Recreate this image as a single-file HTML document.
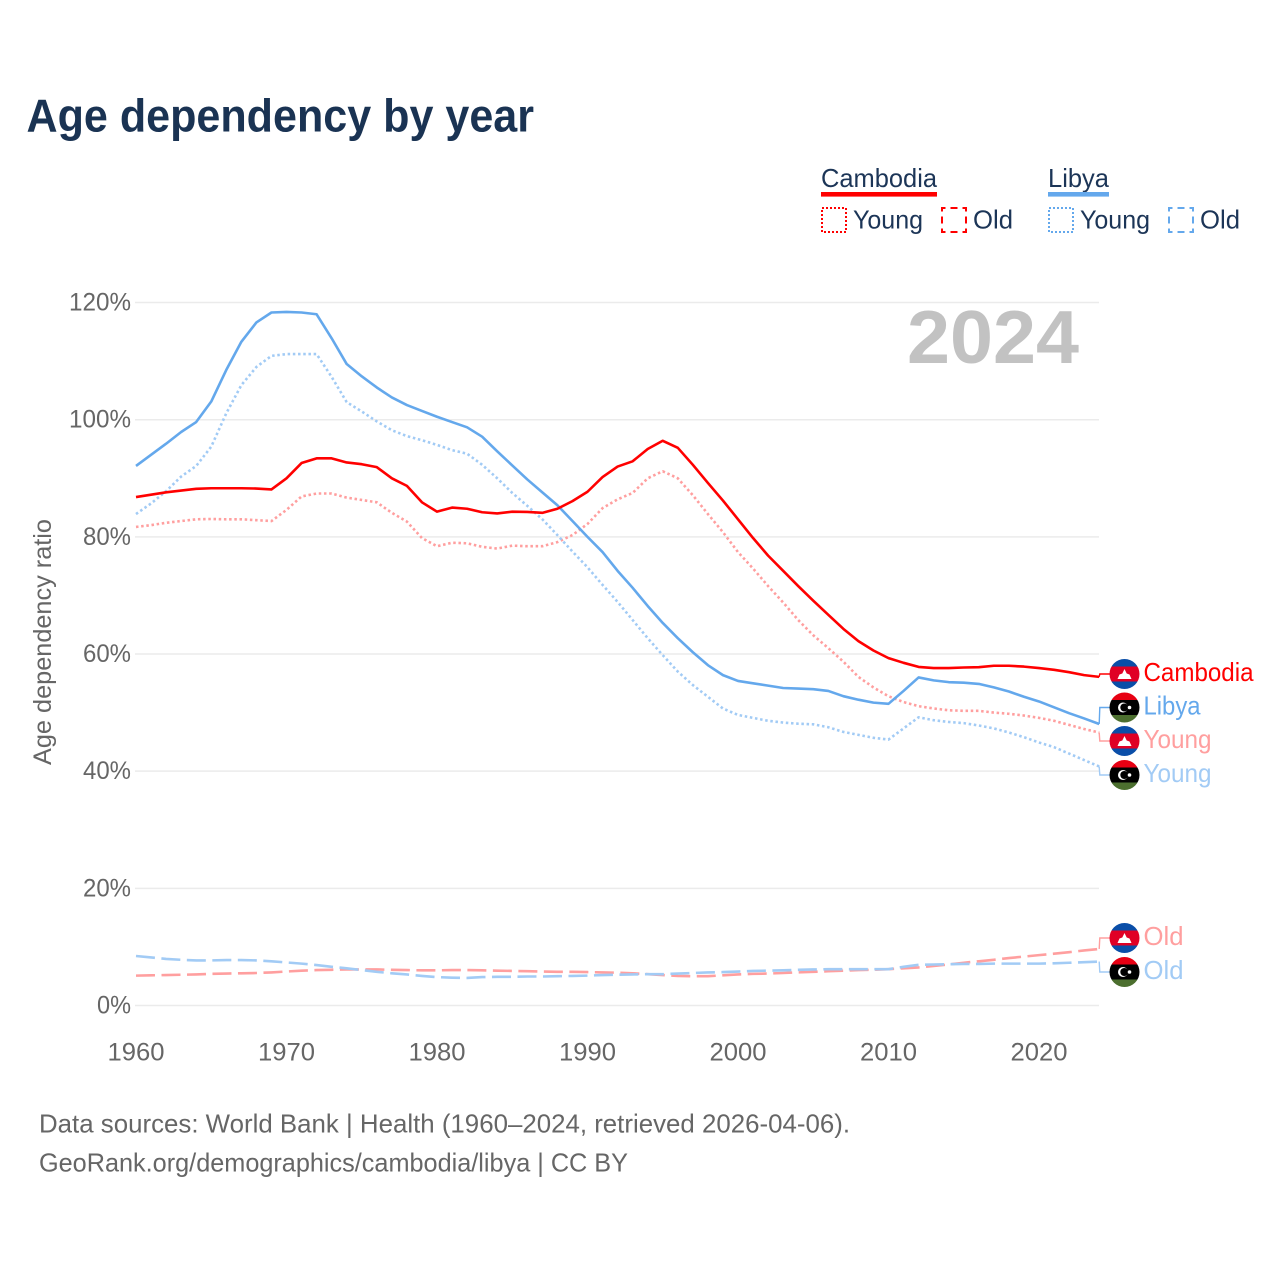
<!DOCTYPE html>
<html lang="en">
<head>
<meta charset="utf-8">
<title>Age dependency by year</title>
<style>
html,body{margin:0;padding:0;background:#fff;}
svg{display:block;font-family:"Liberation Sans",sans-serif;}
</style>
</head>
<body>
<svg id="chart" xmlns="http://www.w3.org/2000/svg" width="1280" height="1280" viewBox="0 0 1280 1280">
  <rect width="1280" height="1280" fill="#ffffff"/>
  <text x="26.5" y="131.5" font-size="46" font-weight="bold" fill="#1a3353" textLength="507.5" lengthAdjust="spacingAndGlyphs">Age dependency by year</text>

  <g font-size="26" fill="#1c3557">
    <text x="821" y="187" textLength="116" lengthAdjust="spacingAndGlyphs">Cambodia</text>
    <rect x="821" y="192" width="116" height="4.6" fill="#ff0000"/>
    <rect x="822" y="208" width="24" height="24" fill="none" stroke="#ff0000" stroke-width="2" stroke-dasharray="2 2"/>
    <text x="853" y="228.5" textLength="70" lengthAdjust="spacingAndGlyphs">Young</text>
    <rect x="942" y="208" width="24" height="24" fill="none" stroke="#ff0000" stroke-width="2" stroke-dasharray="7 5" stroke-dashoffset="3.5"/>
    <text x="973" y="228.5" textLength="40" lengthAdjust="spacingAndGlyphs">Old</text>
    <text x="1048" y="187" textLength="61" lengthAdjust="spacingAndGlyphs">Libya</text>
    <rect x="1048" y="192" width="61" height="4.6" fill="#64a8ec"/>
    <rect x="1049" y="208" width="24" height="24" fill="none" stroke="#64a8ec" stroke-width="2" stroke-dasharray="2 2"/>
    <text x="1080" y="228.5" textLength="70" lengthAdjust="spacingAndGlyphs">Young</text>
    <rect x="1169" y="208" width="24" height="24" fill="none" stroke="#64a8ec" stroke-width="2" stroke-dasharray="7 5" stroke-dashoffset="3.5"/>
    <text x="1200" y="228.5" textLength="40" lengthAdjust="spacingAndGlyphs">Old</text>
  </g>

  <g id="grid"></g>
  <g id="yticks"></g>
  <g id="xticks"></g>
  <text transform="translate(51,765) rotate(-90)" font-size="25" fill="#666666" textLength="246" lengthAdjust="spacingAndGlyphs">Age dependency ratio</text>
  <text x="907" y="363" font-size="75" font-weight="bold" fill="#c2c2c2" textLength="172" lengthAdjust="spacingAndGlyphs">2024</text>

  <g id="series"></g>
  <g id="labels"></g>

  <text x="39" y="1132.5" font-size="26" fill="#666666" textLength="811" lengthAdjust="spacingAndGlyphs">Data sources: World Bank | Health (1960–2024, retrieved 2026-04-06).</text>
  <text x="39" y="1171.5" font-size="26" fill="#666666" textLength="589" lengthAdjust="spacingAndGlyphs">GeoRank.org/demographics/cambodia/libya | CC BY</text>
</svg>
<script>
const firstYear = 1960;
const yTickValues = [0, 20, 40, 60, 80, 100, 120];
const xTickYears = [1960, 1970, 1980, 1990, 2000, 2010, 2020];

const cambodiaTotal = [86.8,87.2,87.6,87.9,88.2,88.3,88.3,88.3,88.25,88.1,90.0,92.6,93.4,93.4,92.7,92.4,91.9,90.0,88.7,85.9,84.3,85.0,84.8,84.2,84.0,84.3,84.25,84.1,84.8,86.1,87.7,90.2,92.0,92.9,95.0,96.4,95.2,92.3,89.2,86.2,83.0,79.8,76.8,74.2,71.6,69.1,66.7,64.3,62.2,60.6,59.3,58.5,57.8,57.6,57.6,57.7,57.75,58.0,58.0,57.85,57.6,57.3,56.9,56.4,56.1];
const libyaTotal = [92.1,94.0,95.9,97.9,99.6,103.1,108.5,113.3,116.6,118.3,118.4,118.3,118.0,113.9,109.5,107.4,105.5,103.8,102.5,101.5,100.5,99.6,98.7,97.1,94.6,92.2,89.8,87.6,85.4,82.7,80.0,77.4,74.2,71.3,68.2,65.3,62.7,60.3,58.1,56.4,55.4,55.0,54.6,54.2,54.1,54.0,53.7,52.8,52.2,51.7,51.5,53.7,56.0,55.5,55.2,55.1,54.9,54.3,53.6,52.7,51.9,50.9,49.9,49.0,48.05];
const cambodiaYoung = [81.7,82.0,82.4,82.7,83.0,83.05,83.0,83.0,82.85,82.7,84.6,86.9,87.4,87.4,86.7,86.3,85.9,84.1,82.6,79.8,78.4,79.0,78.9,78.3,78.0,78.5,78.4,78.4,79.1,80.3,82.2,84.9,86.4,87.5,90.0,91.2,90.0,87.1,83.9,80.8,77.4,74.6,71.6,68.8,65.8,63.2,61.0,58.7,56.1,54.3,52.8,51.8,51.1,50.7,50.4,50.3,50.3,50.0,49.8,49.5,49.1,48.6,47.9,47.2,46.6];
const libyaYoung = [83.9,85.7,87.8,90.3,92.1,95.4,101.1,105.9,109.0,110.9,111.2,111.2,111.2,107.3,103.0,101.4,99.7,98.2,97.2,96.5,95.7,94.8,94.2,92.3,90.0,87.5,85.3,83.0,80.3,77.5,74.8,71.8,68.9,65.8,62.7,59.8,57.0,54.7,52.7,50.7,49.6,49.1,48.6,48.3,48.1,48.0,47.5,46.7,46.2,45.7,45.4,47.3,49.2,48.7,48.4,48.2,47.8,47.3,46.6,45.8,44.9,44.1,43.0,41.9,40.8];
const cambodiaOld = [5.1,5.15,5.2,5.25,5.3,5.4,5.45,5.5,5.55,5.65,5.8,5.95,6.05,6.1,6.15,6.15,6.15,6.1,6.05,6.0,6.0,6.05,6.05,6.0,5.95,5.9,5.85,5.8,5.75,5.75,5.7,5.65,5.6,5.5,5.35,5.2,5.05,5.0,5.0,5.15,5.3,5.4,5.45,5.55,5.65,5.75,5.85,5.95,6.05,6.1,6.2,6.35,6.5,6.75,7.0,7.3,7.55,7.8,8.1,8.35,8.6,8.85,9.1,9.4,9.65];
const libyaOld = [8.45,8.2,7.95,7.8,7.7,7.7,7.75,7.75,7.7,7.55,7.35,7.15,6.9,6.6,6.35,6.05,5.75,5.5,5.3,5.05,4.85,4.75,4.7,4.85,4.9,4.9,4.95,4.95,5.0,5.05,5.1,5.2,5.25,5.3,5.35,5.35,5.45,5.55,5.65,5.7,5.8,5.9,5.95,6.0,6.1,6.15,6.2,6.2,6.2,6.2,6.2,6.6,6.95,7.0,7.05,7.1,7.1,7.15,7.15,7.15,7.15,7.2,7.3,7.4,7.5];

const NS = 'http://www.w3.org/2000/svg';
const RED = '#ff0000', BLUE = '#64a8ec', PINK = '#ff9f9f', SKY = '#a2cbf5';
const DOTTED = '2.5 2.7', DASHED = '19 6.5';

function xScale(year) { return 136 + (year - firstYear) * 15.05; }
function yScale(v) { return 1005.5 - v * 5.858; }

function make(tag, attrs, parent) {
  const el = document.createElementNS(NS, tag);
  for (const k in attrs) el.setAttribute(k, attrs[k]);
  parent.appendChild(el);
  return el;
}

const gridG = document.getElementById('grid');
const yG = document.getElementById('yticks');
const xG = document.getElementById('xticks');
const seriesG = document.getElementById('series');
const labelsG = document.getElementById('labels');

yTickValues.forEach(function (v) {
  const line = make('line', {x1: 135, x2: 1099, y1: yScale(v), y2: yScale(v), stroke: '#ebebeb', 'stroke-width': 1.5}, gridG);
  
  
  const t = make('text', {x: 131, y: yScale(v) + 8, 'text-anchor': 'end', 'font-size': 25, fill: '#666666'}, yG);
  t.setAttribute('textLength', String(v).length === 1 ? 34 : (v >= 100 ? 62 : 48));
  t.setAttribute('lengthAdjust', 'spacingAndGlyphs');
  t.textContent = v + '%';
  
  
});

xTickYears.forEach(function (yr) {
  const t = make('text', {x: xScale(yr), y: 1060.5, 'text-anchor': 'middle', 'font-size': 25, fill: '#666666'}, xG);
  t.setAttribute('textLength', 57);
  t.setAttribute('lengthAdjust', 'spacingAndGlyphs');
  t.textContent = yr;
  
  
});

function drawSeries(values, color, dash, name) {
  const d = values.map(function (v, i) {
    return (i ? 'L' : 'M') + xScale(firstYear + i).toFixed(2) + ' ' + yScale(v).toFixed(2);
  }).join(' ');
  const attrs = {d: d, fill: 'none', stroke: color, 'stroke-width': 2.6, 'stroke-linejoin': 'round'};
  if (dash) attrs['stroke-dasharray'] = dash;
  const p = make('path', attrs, seriesG);
  
  
}

drawSeries(cambodiaOld, PINK, DASHED, 'line-cambodia-old');
drawSeries(libyaOld, SKY, DASHED, 'line-libya-old');
drawSeries(cambodiaYoung, PINK, DOTTED, 'line-cambodia-young');
drawSeries(libyaYoung, SKY, DOTTED, 'line-libya-young');
drawSeries(libyaTotal, BLUE, null, 'line-libya-total');
drawSeries(cambodiaTotal, RED, null, 'line-cambodia-total');

function drawFlag(cy, country, idx) {
  const cx = 1124.5, r = 15;
  const clipId = 'flag-clip-' + idx;
  const clip = make('clipPath', {id: clipId}, labelsG);
  make('circle', {cx: cx, cy: cy, r: r}, clip);
  const g = make('g', {'clip-path': 'url(#' + clipId + ')'}, labelsG);
  
  
  const colors = country === 'cambodia' ? ['#0a4ea8', '#e00025', '#0a4ea8'] : ['#e70013', '#000000', '#4c6f2f'];
  make('rect', {x: cx - r, y: cy - r, width: 2 * r, height: 7.5, fill: colors[0]}, g);
  make('rect', {x: cx - r, y: cy - 7.5, width: 2 * r, height: 15, fill: colors[1]}, g);
  make('rect', {x: cx - r, y: cy + 7.5, width: 2 * r, height: 7.5, fill: colors[2]}, g);
  if (country === 'cambodia') {
    make('path', {d: 'M' + (cx - 7) + ' ' + (cy + 5) + ' L' + (cx - 5) + ' ' + (cy + 0.5) + ' L' + (cx - 2.2) + ' ' + (cy - 0.5) + ' L' + cx + ' ' + (cy - 5) + ' L' + (cx + 2.2) + ' ' + (cy - 0.5) + ' L' + (cx + 5) + ' ' + (cy + 0.5) + ' L' + (cx + 7) + ' ' + (cy + 5) + ' Z', fill: '#ffffff'}, g);
  } else {
    make('circle', {cx: cx - 1.5, cy: cy, r: 5, fill: '#ffffff'}, g);
    make('circle', {cx: cx - 0.2, cy: cy, r: 4, fill: '#000000'}, g);
    make('circle', {cx: cx + 5, cy: cy, r: 1.8, fill: '#ffffff'}, g);
  }
}

function drawEndLabel(values, flagY, country, text, color, width, idx) {
  const last = values[values.length - 1];
  const x0 = xScale(firstYear + values.length - 1);
  const conn = make('path', {d: 'M' + x0 + ' ' + yScale(last).toFixed(2) + ' L' + (x0 + 0.6) + ' ' + flagY + ' L1112 ' + flagY, fill: 'none', stroke: color, 'stroke-width': 1.4}, labelsG);
  
  
  drawFlag(flagY, country, idx);
  const t = make('text', {x: 1143.5, y: flagY + 6.8, 'font-size': 26, fill: color}, labelsG);
  t.setAttribute('textLength', width);
  t.setAttribute('lengthAdjust', 'spacingAndGlyphs');
  t.textContent = text;
  
  
}

drawEndLabel(cambodiaTotal, 674, 'cambodia', 'Cambodia', RED, 110, 0);
drawEndLabel(libyaTotal, 707.5, 'libya', 'Libya', BLUE, 57, 1);
drawEndLabel(cambodiaYoung, 741, 'cambodia', 'Young', PINK, 68, 2);
drawEndLabel(libyaYoung, 775, 'libya', 'Young', SKY, 68, 3);
drawEndLabel(cambodiaOld, 938, 'cambodia', 'Old', PINK, 40, 4);
drawEndLabel(libyaOld, 972, 'libya', 'Old', SKY, 40, 5);
</script>
</body>
</html>
